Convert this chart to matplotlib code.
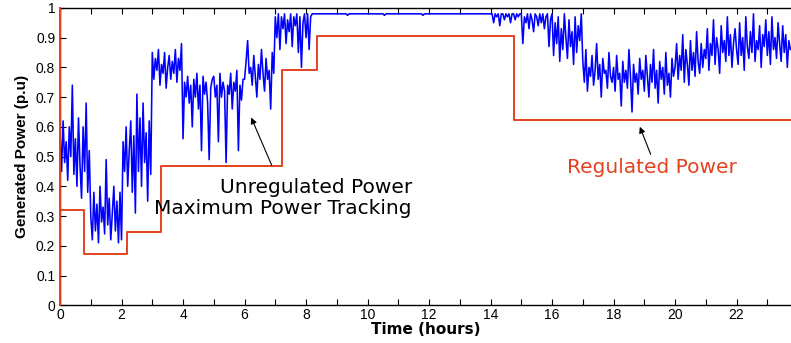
import numpy as np
import matplotlib
matplotlib.use("Agg")
import matplotlib.pyplot as plt

# Unregulated (MPPT) power, sampled every 0.05 h, one row per hour
unreg_h = [
    [0.58,0.45,0.62,0.48,0.55,0.42,0.60,0.50,0.74,0.44,0.56,0.40,0.63,0.47,0.36,0.60,0.45,0.68,0.38,0.52],
    [0.30,0.22,0.38,0.25,0.34,0.21,0.40,0.28,0.33,0.24,0.49,0.27,0.36,0.22,0.31,0.40,0.25,0.35,0.21,0.38],
    [0.22,0.55,0.45,0.60,0.40,0.52,0.62,0.38,0.57,0.31,0.71,0.45,0.63,0.40,0.68,0.48,0.58,0.35,0.62,0.44],
    [0.85,0.76,0.83,0.79,0.86,0.74,0.81,0.78,0.85,0.73,0.80,0.84,0.76,0.82,0.78,0.86,0.75,0.83,0.79,0.88],
    [0.56,0.75,0.70,0.77,0.68,0.74,0.60,0.76,0.70,0.78,0.66,0.74,0.52,0.77,0.71,0.75,0.68,0.49,0.73,0.76],
    [0.77,0.70,0.74,0.55,0.78,0.70,0.75,0.72,0.48,0.74,0.71,0.78,0.66,0.75,0.72,0.79,0.52,0.74,0.69,0.76],
    [0.76,0.82,0.89,0.78,0.80,0.74,0.84,0.77,0.70,0.81,0.76,0.86,0.78,0.72,0.83,0.76,0.79,0.66,0.85,0.78],
    [0.97,0.90,0.98,0.86,0.97,0.93,0.98,0.88,0.96,0.92,0.98,0.87,0.97,0.94,0.98,0.85,0.97,0.80,0.95,0.98],
    [0.90,0.98,0.86,0.97,0.98,0.98,0.98,0.98,0.98,0.98,0.98,0.98,0.98,0.98,0.98,0.98,0.98,0.98,0.98,0.98],
    [0.98,0.98,0.98,0.98,0.98,0.98,0.98,0.975,0.98,0.98,0.98,0.98,0.98,0.98,0.98,0.98,0.98,0.98,0.98,0.98],
    [0.98,0.98,0.98,0.98,0.98,0.98,0.98,0.98,0.98,0.98,0.98,0.975,0.98,0.98,0.98,0.98,0.98,0.98,0.98,0.98],
    [0.98,0.98,0.98,0.98,0.98,0.98,0.98,0.98,0.98,0.98,0.98,0.98,0.98,0.98,0.98,0.98,0.975,0.98,0.98,0.98],
    [0.98,0.98,0.98,0.98,0.98,0.98,0.98,0.98,0.98,0.98,0.98,0.98,0.98,0.98,0.98,0.98,0.98,0.98,0.98,0.98],
    [0.98,0.98,0.98,0.98,0.98,0.98,0.98,0.98,0.98,0.98,0.98,0.98,0.98,0.98,0.98,0.98,0.98,0.98,0.98,0.98],
    [0.98,0.98,0.95,0.98,0.97,0.98,0.94,0.98,0.98,0.96,0.98,0.97,0.98,0.95,0.98,0.98,0.96,0.98,0.97,0.98],
    [0.98,0.88,0.97,0.95,0.98,0.93,0.98,0.96,0.92,0.98,0.97,0.94,0.98,0.95,0.98,0.93,0.97,0.98,0.87,0.96],
    [0.98,0.84,0.95,0.88,0.97,0.82,0.93,0.86,0.98,0.90,0.83,0.96,0.87,0.92,0.81,0.97,0.85,0.94,0.89,0.98],
    [0.82,0.75,0.86,0.72,0.80,0.77,0.84,0.74,0.79,0.88,0.76,0.81,0.70,0.83,0.78,0.79,0.73,0.85,0.77,0.75],
    [0.80,0.72,0.84,0.76,0.78,0.67,0.82,0.75,0.79,0.73,0.86,0.77,0.65,0.81,0.75,0.78,0.71,0.83,0.76,0.79],
    [0.72,0.84,0.77,0.70,0.81,0.75,0.86,0.73,0.79,0.68,0.82,0.76,0.80,0.71,0.85,0.74,0.78,0.70,0.83,0.77],
    [0.80,0.88,0.76,0.84,0.79,0.91,0.75,0.86,0.81,0.74,0.89,0.79,0.85,0.77,0.92,0.82,0.78,0.88,0.80,0.86],
    [0.83,0.93,0.79,0.88,0.84,0.96,0.81,0.90,0.86,0.78,0.94,0.85,0.89,0.82,0.97,0.84,0.91,0.80,0.88,0.93],
    [0.86,0.81,0.95,0.84,0.90,0.79,0.97,0.87,0.83,0.92,0.85,0.98,0.82,0.89,0.86,0.94,0.80,0.91,0.87,0.96],
    [0.84,0.92,0.81,0.97,0.86,0.90,0.83,0.95,0.88,0.82,0.94,0.85,0.91,0.80,0.89,0.86],
]
unreg = [v for row in unreg_h for v in row]
unreg_t = np.arange(len(unreg)) * 0.05

# Regulated power: step profile
reg_t = [0.0, 0.0, 0.0, 0.78, 0.78, 2.18, 2.18, 3.28, 3.28, 7.23, 7.23, 8.37, 8.37, 14.76, 14.76, 23.77]
reg_v = [0.0, 1.0, 0.32, 0.32, 0.172, 0.172, 0.245, 0.245, 0.467, 0.467, 0.791, 0.791, 0.907, 0.907, 0.623, 0.623]

xticks = [0, 2, 4, 6, 8, 10, 12, 14, 16, 18, 20, 22]
yticks = [0, 0.1, 0.2, 0.3, 0.4, 0.5, 0.6, 0.7, 0.8, 0.9, 1]
ytick_labels = ["0", "0.1", "0.2", "0.3", "0.4", "0.5", "0.6", "0.7", "0.8", "0.9", "1"]

plt.rcParams['font.family'] = ['Liberation Sans', 'DejaVu Sans']

fig = plt.figure(figsize=(7.91, 3.43), dpi=100)
ax = fig.add_axes([0.0759, 0.110, 0.9241, 0.867])

red = '#e3421f'
ax.plot(unreg_t, unreg, color='#0000ff', lw=1.15)
ax.plot(reg_t, reg_v, color=red, lw=1.4, zorder=3, clip_on=False)

ax.set_xlim(0, 23.77)
ax.set_ylim(0, 1)
ax.set_xticks(xticks)
ax.set_xticks(np.arange(0, 24, 1), minor=True)
ax.set_yticks(yticks)
ax.set_yticklabels(ytick_labels)
ax.tick_params(axis='both', which='both', direction='in', top=True, right=False,
               labelsize=10, length=4, width=0.8)
ax.tick_params(axis='x', pad=2)
ax.spines['right'].set_visible(False)
for s in ['left', 'bottom', 'top']:
    ax.spines[s].set_linewidth(1.0)

ax.set_xlabel('Time (hours)', fontsize=11, fontweight='bold', family='DejaVu Sans', labelpad=0)
ax.set_ylabel('Generated Power (p.u)', fontsize=11, fontweight='bold',
              family='Liberation Sans', labelpad=5)

ax.text(11.44, 0.395, 'Unregulated Power', ha='right', va='center', fontsize=14.5,
        color='black', family='DejaVu Sans')
ax.text(11.44, 0.327, 'Maximum Power Tracking', ha='right', va='center', fontsize=14.5,
        color='black', family='DejaVu Sans')
ax.annotate('', xy=(6.18, 0.64), xytext=(6.92, 0.462),
            arrowprops=dict(arrowstyle='-|>', color='black', lw=0.8, mutation_scale=9))

ax.text(19.25, 0.462, 'Regulated Power', ha='center', va='center', fontsize=14.5,
        color=red, family='DejaVu Sans')
ax.annotate('', xy=(18.82, 0.609), xytext=(19.24, 0.499),
            arrowprops=dict(arrowstyle='-|>', color='black', lw=0.8, mutation_scale=9))

fig.savefig('out.png', dpi=100)
